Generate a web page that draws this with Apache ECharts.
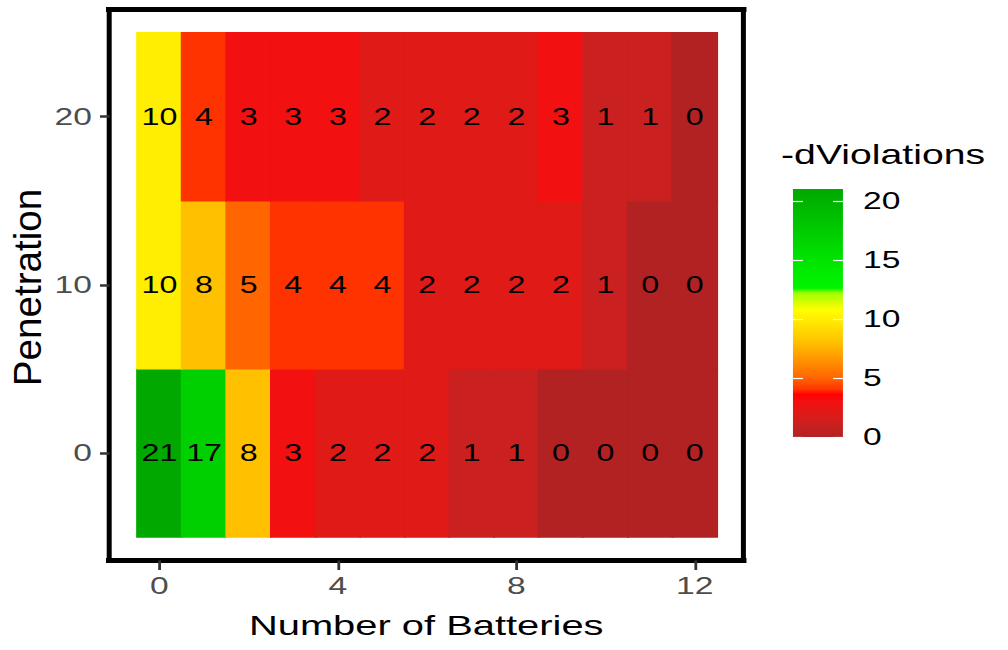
<!DOCTYPE html>
<html>
<head>
<meta charset="utf-8">
<script src="https://cdn.jsdelivr.net/npm/echarts@6/dist/echarts.min.js"></script>
<style>
  html, body { margin: 0; padding: 0; background: #fff; overflow: hidden; }
  /* the chart is laid out 720px wide and widened to 1008px, giving the wide type face */
  #chart { width: 720px; height: 650px; transform: scaleX(1.4); transform-origin: 0 0; }
</style>
</head>
<body>
<div id="chart"></div>
<script>
// Number of batteries (x) and penetration levels (y)
const batteries = [0, 1, 2, 3, 4, 5, 6, 7, 8, 9, 10, 11, 12];
const penetration = [0, 10, 20];
// -dViolations for each penetration level, ordered by number of batteries
const violationsPen0  = [21, 17, 8, 3, 2, 2, 2, 1, 1, 0, 0, 0, 0];
const violationsPen10 = [10, 8, 5, 4, 4, 4, 2, 2, 2, 2, 1, 0, 0];
const violationsPen20 = [10, 4, 3, 3, 3, 2, 2, 2, 2, 3, 1, 1, 0];
// tick labels
const xTicks = [0, 4, 8, 12];
const yTicks = [0, 10, 20];
const legendTicks = [0, 5, 10, 15, 20];

// fill scale: value -> colour (firebrick through red, orange, yellow to green)
const fillStopValues = [0, 1, 2, 3, 3.6, 4, 5, 8, 10, 10.8, 12.2, 12.6, 15, 17, 21];
const fillStopColors = ['#B22222', '#CA2020', '#DF1A17', '#F21010', '#FF0000', '#FF3300', '#FF6600',
                        '#FFC000', '#FFEE00', '#FFFF00', '#9CFF00', '#00F500', '#00E400', '#00D000', '#00A800'];

const S = 1.4; // horizontal widening applied by the stylesheet
const FONT = '"Liberation Sans", Arial, Helvetica, sans-serif';

const rowsByPenetration = [violationsPen0, violationsPen10, violationsPen20];
const cells = [];
penetration.forEach(function (pen, r) {
  batteries.forEach(function (b, c) {
    cells.push([b, pen, rowsByPenetration[r][c]]);
  });
});
const colorMax = Math.max.apply(null, cells.map(function (d) { return d[2]; }));

function hexToRgb(h) {
  return [parseInt(h.slice(1, 3), 16), parseInt(h.slice(3, 5), 16), parseInt(h.slice(5, 7), 16)];
}
function colorAt(v) {
  if (v <= fillStopValues[0]) return fillStopColors[0];
  for (let i = 1; i < fillStopValues.length; i++) {
    if (v <= fillStopValues[i]) {
      const t = (v - fillStopValues[i - 1]) / (fillStopValues[i] - fillStopValues[i - 1]);
      const a = hexToRgb(fillStopColors[i - 1]), b = hexToRgb(fillStopColors[i]);
      const m = a.map(function (x, k) { return Math.round(x + (b[k] - x) * t); });
      return 'rgb(' + m.join(',') + ')';
    }
  }
  return fillStopColors[fillStopColors.length - 1];
}

const TILE_W = 1;   // one battery
const TILE_H = 10;  // one penetration step

function renderTile(params, api) {
  const x = api.value(0), y = api.value(1), v = api.value(2);
  const p0 = api.coord([x - TILE_W / 2, y + TILE_H / 2]);
  const p1 = api.coord([x + TILE_W / 2, y - TILE_H / 2]);
  const fill = colorAt(v);
  return {
    type: 'rect',
    shape: { x: p0[0], y: p0[1], width: p1[0] - p0[0], height: p1[1] - p0[1] },
    style: { fill: fill, stroke: fill, lineWidth: 1.4 },
    textContent: {
      style: { text: String(v), fontSize: 23, fontFamily: FONT, fill: '#000' }
    },
    textConfig: { position: 'inside' }
  };
}

const gradient = new echarts.graphic.LinearGradient(0, 1, 0, 0,
  fillStopValues.map(function (v, i) { return { offset: v / colorMax, color: fillStopColors[i] }; }));

const frameLine = function (w) {
  return { show: true, onZero: false, lineStyle: { color: '#000', width: w, cap: 'square' } };
};
const X_MIN = -1.12, X_MAX = 13.08, Y_MIN = -6.4, Y_MAX = 26.38;

const chart = echarts.init(document.getElementById('chart'), null, { renderer: 'svg' });
chart.setOption({
  animation: false,
  backgroundColor: '#fff',
  title: {
    text: '-dViolations', left: 557.9, top: 140.5, padding: 0,
    textStyle: { fontFamily: FONT, fontSize: 28, fontWeight: 'normal', color: '#000', lineHeight: 28 }
  },
  grid: [
    { left: 78.2, right: 189.3, top: 9.5, bottom: 89.5 },
    { left: 566.4, width: 35.7, top: 189, height: 248 }
  ],
  xAxis: [
    {
      gridIndex: 0, type: 'value', min: X_MIN, max: X_MAX, position: 'bottom',
      name: 'Number of Batteries', nameLocation: 'middle', nameGap: 50,
      nameTextStyle: { fontFamily: FONT, fontSize: 28.5, color: '#000' },
      axisLine: frameLine(5),
      axisTick: { show: true, customValues: xTicks, length: 9.5, lineStyle: { color: '#333', width: 2 } },
      axisLabel: { customValues: xTicks, margin: 13, fontSize: 24, fontFamily: FONT, color: '#4D4D4D' },
      splitLine: { show: false }
    },
    {
      gridIndex: 0, type: 'value', min: X_MIN, max: X_MAX, position: 'top',
      axisLine: frameLine(5), axisTick: { show: false }, axisLabel: { show: false }, splitLine: { show: false }
    },
    { gridIndex: 1, type: 'category', data: ['-dViolations'], show: false }
  ],
  yAxis: [
    {
      gridIndex: 0, type: 'value', min: Y_MIN, max: Y_MAX, position: 'left',
      axisLine: frameLine(5 / S),
      axisTick: { show: true, customValues: yTicks, length: 6.8, lineStyle: { color: '#333', width: 2.5 } },
      axisLabel: { customValues: yTicks, margin: 12.5, fontSize: 24, fontFamily: FONT, color: '#4D4D4D' },
      splitLine: { show: false }
    },
    {
      gridIndex: 0, type: 'value', min: Y_MIN, max: Y_MAX, position: 'right',
      axisLine: frameLine(5 / S), axisTick: { show: false }, axisLabel: { show: false }, splitLine: { show: false }
    },
    {
      gridIndex: 1, type: 'value', min: 0, max: colorMax, position: 'right', z: 5,
      axisLine: { show: false },
      axisTick: { show: true, inside: true, customValues: legendTicks, length: 7.1, lineStyle: { color: '#fff', width: 1.2 } },
      axisLabel: { customValues: legendTicks, margin: 14.3, fontSize: 24, fontFamily: FONT, color: '#000' },
      splitLine: { show: false }
    },
    {
      gridIndex: 1, type: 'value', min: 0, max: colorMax, position: 'left', z: 5,
      axisLine: { show: false },
      axisTick: { show: true, inside: true, customValues: legendTicks, length: 7.1, lineStyle: { color: '#fff', width: 1.2 } },
      axisLabel: { show: false },
      splitLine: { show: false }
    }
  ],
  graphic: [{
    type: 'text', x: 19.6, y: 287.5, rotation: Math.PI / 2, scaleX: 1.38,
    style: { text: 'Penetration', fontSize: 28, fontFamily: FONT, fill: '#000', align: 'center', verticalAlign: 'middle' }
  }],
  series: [
    {
      type: 'custom', xAxisIndex: 0, yAxisIndex: 0, encode: { x: 0, y: 1 },
      data: cells, renderItem: renderTile, silent: true
    },
    {
      type: 'bar', xAxisIndex: 2, yAxisIndex: 2, data: [colorMax], barWidth: '100%',
      itemStyle: { color: gradient }, silent: true
    }
  ]
});
</script>
</body>
</html>
